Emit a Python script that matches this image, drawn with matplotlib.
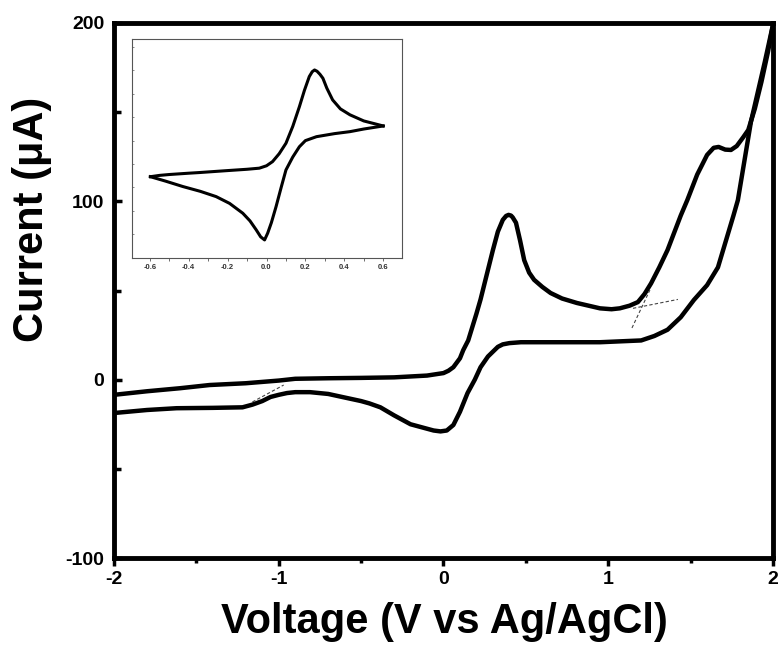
import matplotlib
matplotlib.use("Agg")
import matplotlib.pyplot as plt
from matplotlib.ticker import MultipleLocator

plt.rcParams['font.family'] = ['Liberation Sans', 'DejaVu Sans']

# main CV, forward (anodic) sweep -2 -> 2 V
fwd_v = [-2.0, -1.8, -1.6, -1.42, -1.2, -1.0, -0.9, -0.7, -0.5, -0.3, -0.1, 0.0,
         0.03, 0.06, 0.08, 0.1, 0.12, 0.15, 0.2, 0.225, 0.3, 0.33, 0.36, 0.38, 0.395,
         0.41, 0.42, 0.44, 0.465, 0.49, 0.52, 0.55, 0.6, 0.65, 0.72, 0.81, 0.95,
         1.02, 1.07, 1.13, 1.18, 1.22, 1.26, 1.31, 1.36, 1.44, 1.48, 1.54, 1.6,
         1.64, 1.67, 1.71, 1.745, 1.78, 1.82, 1.85, 1.89, 1.93, 1.97, 2.0]
fwd_i = [-8.5, -6.5, -4.8, -3.0, -2.0, -0.5, 0.5, 0.8, 1.0, 1.3, 2.3, 3.7,
         5.0, 7.0, 9.5, 12.0, 16.6, 22.0, 37.0, 45.0, 72.7, 83.0, 89.6, 91.8, 92.4,
         92.0, 91.0, 88.0, 78.0, 67.0, 60.0, 56.0, 52.0, 48.6, 45.5, 43.0, 40.0,
         39.5, 40.0, 41.5, 43.5, 48.0, 54.0, 63.0, 72.7, 92.0, 100.7, 115.0, 126.0,
         130.0, 130.5, 129.0, 128.8, 131.0, 136.0, 140.0, 152.0, 167.0, 184.0, 199.0]

# main CV, reverse sweep 2 -> -2 V
rev_v = [2.0, 1.95, 1.866, 1.787, 1.76, 1.666, 1.6, 1.52, 1.44, 1.36, 1.28, 1.2,
         0.95, 0.7, 0.47, 0.4, 0.36, 0.33, 0.27, 0.225, 0.19, 0.146, 0.1, 0.06,
         0.02, -0.018, -0.06, -0.1, -0.2, -0.3, -0.383, -0.45, -0.5, -0.6, -0.7,
         -0.81, -0.9, -0.95, -1.0, -1.05, -1.1, -1.16, -1.22, -1.4, -1.62, -1.8, -2.0]
rev_i = [199.0, 178.0, 144.5, 100.7, 92.0, 63.0, 53.0, 44.7, 35.0, 28.0, 24.5, 22.0,
         21.0, 21.0, 21.0, 20.5, 19.8, 18.4, 13.0, 7.0, 0.0, -7.5, -18.0, -25.4,
         -28.5, -29.0, -28.5, -27.5, -25.0, -20.0, -15.5, -13.3, -12.0, -10.0, -8.0,
         -7.0, -7.0, -7.5, -8.5, -9.7, -12.0, -14.0, -15.5, -15.8, -16.0, -17.0, -18.7]

# baseline tangent construction lines
tan1_v = [-1.16, -0.97]
tan1_i = [-12.5, -3.0]
tan2_v = [1.144, 1.253]
tan2_i = [29.0, 50.3]
tan3_v = [1.15, 1.423]
tan3_i = [40.0, 45.0]

# inset CV (arbitrary current units)
ins_fwd_v = [-0.597, -0.55, -0.5, -0.4, -0.345, -0.2, -0.1, -0.037, 0.0, 0.031,
             0.065, 0.1, 0.135, 0.169, 0.195, 0.22, 0.235, 0.247, 0.26, 0.275,
             0.29, 0.31, 0.34, 0.38, 0.429, 0.5, 0.6]
ins_fwd_i = [37.0, 37.6, 38.0, 38.6, 38.9, 39.8, 40.4, 40.9, 42.0, 43.9,
             47.5, 52.3, 60.0, 69.0, 76.5, 82.8, 85.0, 85.8, 85.2, 83.8,
             82.0, 77.5, 72.1, 68.0, 65.3, 62.5, 60.2]
ins_rev_v = [0.6, 0.5, 0.429, 0.35, 0.257, 0.2, 0.169, 0.135, 0.1, 0.075, 0.049,
             0.025, 0.006, -0.01, -0.03, -0.053, -0.085, -0.122, -0.19, -0.259,
             -0.34, -0.43, -0.52, -0.597]
ins_rev_i = [60.2, 58.8, 57.6, 56.7, 55.3, 53.5, 50.7, 46.0, 40.1, 32.0, 23.3,
             16.0, 11.2, 8.1, 9.5, 12.7, 16.8, 20.3, 24.8, 27.9,
             30.3, 32.5, 35.0, 37.0]

x_ticks = [-2, -1, 0, 1, 2]
y_ticks = [-100, 0, 100, 200]
ins_ticks = [-0.6, -0.4, -0.2, 0.0, 0.2, 0.4, 0.6]

fig = plt.figure(figsize=(7.83, 6.64), dpi=100)
ax = fig.add_axes([0.1456, 0.1596, 0.8416, 0.8058])

ax.plot(fwd_v, fwd_i, color='black', lw=3.2, solid_joinstyle='round', solid_capstyle='round')
ax.plot(rev_v, rev_i, color='black', lw=3.2, solid_joinstyle='round', solid_capstyle='round')
for tv, ti in [(tan1_v, tan1_i), (tan2_v, tan2_i), (tan3_v, tan3_i)]:
    ax.plot(tv, ti, color='#444444', lw=0.8, ls=(0, (3, 2)))

ax.set_xlim(-2, 2)
ax.set_ylim(-100, 200)
ax.set_xticks(x_ticks)
ax.set_xticklabels([str(t) for t in x_ticks], fontweight='bold')
ax.set_yticks(y_ticks)
ax.set_yticklabels([str(t) for t in y_ticks], fontweight='bold')
ax.xaxis.set_minor_locator(MultipleLocator(0.5))
ax.yaxis.set_minor_locator(MultipleLocator(50))
for s in ax.spines.values():
    s.set_linewidth(3.5)
ax.tick_params(axis='x', which='major', direction='out', length=6, width=2.5, pad=3,
               labelsize=14)
ax.tick_params(axis='x', which='minor', direction='out', length=3.5, width=2.5)
ax.tick_params(axis='y', which='major', direction='in', length=6, width=2.5, pad=7,
               labelsize=14)
ax.tick_params(axis='y', which='minor', direction='in', length=5, width=2.5)

ax.set_xlabel('Voltage (V vs Ag/AgCl)', fontsize=30, fontweight='bold', va='center')
ax.xaxis.set_label_coords(0.502, -0.12)
ax.set_ylabel('Current (\u03bcA)', fontsize=30, fontweight='bold', va='center')
ax.yaxis.set_label_coords(-0.124, 0.632)

# inset
ins = fig.add_axes([0.169, 0.612, 0.344, 0.3294])
ins.plot(ins_fwd_v, ins_fwd_i, color='black', lw=2.2, solid_joinstyle='round')
ins.plot(ins_rev_v, ins_rev_i, color='black', lw=2.2, solid_joinstyle='round')
ins.set_xlim(-0.69, 0.695)
ins.set_ylim(0, 100)
ins.set_xticks(ins_ticks)
ins.set_xticklabels(['%.1f' % t for t in ins_ticks], fontweight='bold')
ins.xaxis.set_minor_locator(MultipleLocator(0.1))
ins.yaxis.set_major_locator(MultipleLocator(10.7))
ins.set_yticklabels([])
for s in ins.spines.values():
    s.set_linewidth(0.8)
    s.set_color('#555555')
ins.tick_params(axis='x', which='both', direction='out', length=2.5, width=0.6,
                colors='#555555', labelsize=5.5, labelcolor='#333333', pad=2)
ins.tick_params(axis='y', which='both', direction='in', length=1.5, width=0.6,
                colors='#777777')

plt.savefig('out.png', dpi=100)
